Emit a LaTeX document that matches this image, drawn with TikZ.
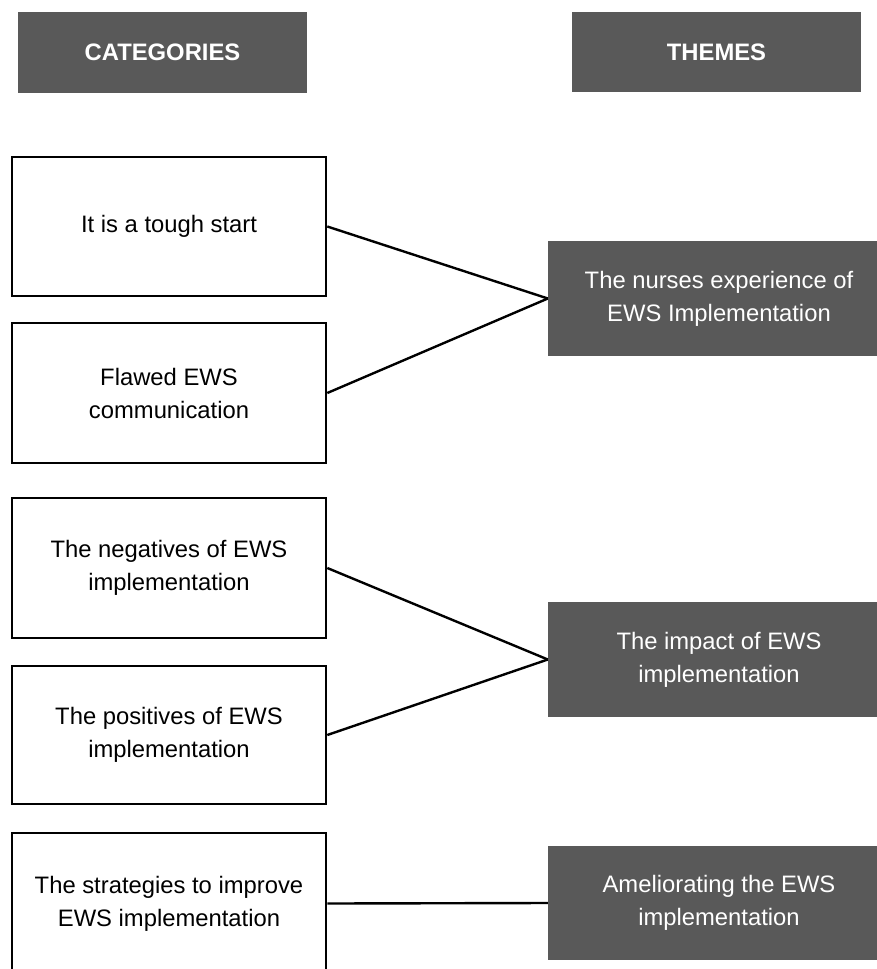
\documentclass[tikz,border=0pt]{standalone}
\usepackage{fontspec}
\setmainfont{Liberation Sans}
\definecolor{hdrgray}{HTML}{595959}
\begin{document}
\begin{tikzpicture}[x=1pt,y=-1pt,
  txt/.style={font=\fontsize{23.8}{33}\selectfont, align=center, inner sep=0pt},
  header/.style={txt, fill=hdrgray, text=white, font=\fontsize{23.8}{33}\selectfont\bfseries},
  catbox/.style={txt, draw=black, line width=2.6pt, fill=white, minimum width=314pt},
  themebox/.style={txt, fill=hdrgray, text=white, minimum width=342pt, minimum height=115pt},
  link/.style={draw=black, line width=2.4pt}
]
\useasboundingbox (0,0) rectangle (877,969);
\clip (0,0) rectangle (877,969);
\fill[white] (0,0) rectangle (877,969);

\node[header, minimum width=289pt, minimum height=81pt] (hcat) at (162.5,52.5) {CATEGORIES};
\node[header, minimum width=289pt, minimum height=80pt] (hthm) at (716.5,52) {THEMES};

\node[catbox, minimum height=139pt] (c1) at (169,226.5) {It is a tough start};
\node[catbox, minimum height=140pt] (c2) at (169,393) {Flawed EWS\\communication};
\node[catbox, minimum height=140pt] (c3) at (169,568) {The negatives of EWS\\implementation};
\node[catbox, minimum height=138pt] (c4) at (169,735) {The positives of EWS\\implementation};
\node[catbox, minimum height=141pt] (c5) at (169,903.5) {The strategies to improve\\EWS implementation};

\node[themebox] (t1) at (719,298.5) {The nurses experience of\\EWS Implementation};
\node[themebox] (t2) at (719,659.5) {The impact of EWS\\implementation};
\node[themebox, minimum height=114pt] (t3) at (719,903) {Ameliorating the EWS\\implementation};

\draw[link] (c1.east) -- (t1.west);
\draw[link] (c2.east) -- (t1.west);
\draw[link] (c3.east) -- (t2.west);
\draw[link] (c4.east) -- (t2.west);
\draw[link] (c5.east) -- (t3.west);
\end{tikzpicture}
\end{document}
